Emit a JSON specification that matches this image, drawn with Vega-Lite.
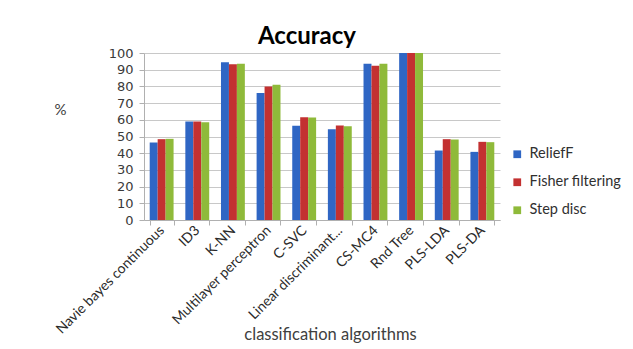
{
  "$schema": "https://vega.github.io/schema/vega-lite/v6.json",
  "width": 356,
  "height": 167,
  "autosize": {"type": "none"},
  "padding": {"left": 144, "top": 53, "right": 133, "bottom": 129},
  "background": "white",
  "title": {"text": "Accuracy", "font": "Lato", "fontSize": 24, "fontWeight": "bold", "color": "#000000", "anchor": "middle", "frame": "group", "dx": -15, "offset": 6, "dy": 8},
  "config": {
    "view": {"stroke": null},
    "font": "Lato",
    "axis": {"labelFont": "Lato", "titleFont": "Lato", "labelColor": "#404040", "titleColor": "#404040", "domainColor": "#b0b0b0", "tickColor": "#b0b0b0", "gridColor": "#c8c8c8"}
  },
  "data": {
    "values": [
      {"algorithm": "Navie bayes continuous", "method": "ReliefF", "accuracy": 46.4},
      {"algorithm": "Navie bayes continuous", "method": "Fisher filtering", "accuracy": 48.4},
      {"algorithm": "Navie bayes continuous", "method": "Step disc", "accuracy": 48.6},
      {"algorithm": "ID3", "method": "ReliefF", "accuracy": 59},
      {"algorithm": "ID3", "method": "Fisher filtering", "accuracy": 59},
      {"algorithm": "ID3", "method": "Step disc", "accuracy": 58.6},
      {"algorithm": "K-NN", "method": "ReliefF", "accuracy": 94.4},
      {"algorithm": "K-NN", "method": "Fisher filtering", "accuracy": 93.2},
      {"algorithm": "K-NN", "method": "Step disc", "accuracy": 93.6},
      {"algorithm": "Multilayer perceptron", "method": "ReliefF", "accuracy": 76},
      {"algorithm": "Multilayer perceptron", "method": "Fisher filtering", "accuracy": 80},
      {"algorithm": "Multilayer perceptron", "method": "Step disc", "accuracy": 81},
      {"algorithm": "C-SVC", "method": "ReliefF", "accuracy": 56.4},
      {"algorithm": "C-SVC", "method": "Fisher filtering", "accuracy": 61.6},
      {"algorithm": "C-SVC", "method": "Step disc", "accuracy": 61.4},
      {"algorithm": "Linear discriminant analysis", "method": "ReliefF", "accuracy": 54.4},
      {"algorithm": "Linear discriminant analysis", "method": "Fisher filtering", "accuracy": 56.6},
      {"algorithm": "Linear discriminant analysis", "method": "Step disc", "accuracy": 56.2},
      {"algorithm": "CS-MC4", "method": "ReliefF", "accuracy": 93.6},
      {"algorithm": "CS-MC4", "method": "Fisher filtering", "accuracy": 92.4},
      {"algorithm": "CS-MC4", "method": "Step disc", "accuracy": 93.6},
      {"algorithm": "Rnd Tree", "method": "ReliefF", "accuracy": 100},
      {"algorithm": "Rnd Tree", "method": "Fisher filtering", "accuracy": 100},
      {"algorithm": "Rnd Tree", "method": "Step disc", "accuracy": 100},
      {"algorithm": "PLS-LDA", "method": "ReliefF", "accuracy": 41.6},
      {"algorithm": "PLS-LDA", "method": "Fisher filtering", "accuracy": 48.4},
      {"algorithm": "PLS-LDA", "method": "Step disc", "accuracy": 48.2},
      {"algorithm": "PLS-DA", "method": "ReliefF", "accuracy": 40.8},
      {"algorithm": "PLS-DA", "method": "Fisher filtering", "accuracy": 46.8},
      {"algorithm": "PLS-DA", "method": "Step disc", "accuracy": 46.6}
    ]
  },
  "mark": {"type": "bar", "stroke": null},
  "encoding": {
    "x": {
      "field": "algorithm",
      "type": "nominal",
      "sort": null,
      "scale": {"paddingInner": 0.33, "paddingOuter": 0.16},
      "axis": {
        "title": "classification algorithms",
        "titleFontSize": 16.5,
        "titleFontWeight": "normal",
        "titleX": 186,
        "titleY": 106,
        "labelAngle": -45,
        "labelAlign": "right",
        "labelBaseline": "middle",
        "labelFontSize": 14,
        "labelColor": "#2a2a2a",
        "labelPadding": 3,
        "labelLimit": 220,
        "labelExpr": "datum.label == 'Linear discriminant analysis' ? 'Linear discriminant...' : datum.label",
        "tickBand": "extent",
        "tickSize": 5,
        "domain": true
      }
    },
    "xOffset": {"field": "method", "type": "nominal", "sort": ["ReliefF", "Fisher filtering", "Step disc"], "scale": {"paddingInner": 0}},
    "y": {
      "field": "accuracy",
      "type": "quantitative",
      "scale": {"domain": [0, 100], "nice": false},
      "axis": {
        "values": [0, 10, 20, 30, 40, 50, 60, 70, 80, 90, 100],
        "title": "%",
        "titleAngle": 0,
        "titleFontSize": 15,
        "titleFontWeight": "normal",
        "titleX": -84,
        "titleY": 64,
        "titleAlign": "center",
        "labelFont": "DejaVu Sans",
        "labelFontSize": 13,
        "labelColor": "#3a3a3a",
        "labelPadding": 6,
        "tickSize": 5,
        "grid": true,
        "domain": true
      }
    },
    "color": {
      "field": "method",
      "type": "nominal",
      "sort": ["ReliefF", "Fisher filtering", "Step disc"],
      "scale": {"domain": ["ReliefF", "Fisher filtering", "Step disc"], "range": ["#2f66c4", "#c33131", "#8fba3a"]},
      "legend": {
        "title": null,
        "orient": "none",
        "legendX": 366,
        "legendY": 94,
        "symbolType": "square",
        "symbolSize": 60,
        "symbolStrokeWidth": 0,
        "labelFontSize": 14.5,
        "labelColor": "#303030",
        "rowPadding": 13,
        "labelOffset": 5
      }
    }
  }
}
